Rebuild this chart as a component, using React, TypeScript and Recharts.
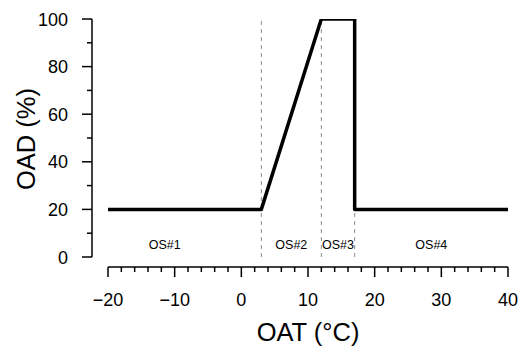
import React from "react";
import { ComposedChart, Line, Scatter, XAxis, YAxis, ReferenceLine } from "recharts";

// damper profile: outside air temperature vs outside air damper position
const oat = [-20, 3, 12, 17, 17, 40];
const oad = [20, 20, 100, 100, 20, 20];

// operating-state boundaries and their labels
const boundaries = [3, 12, 17];
const osNames = ["OS#1", "OS#2", "OS#3", "OS#4"];
const osX = [-11.5, 7.5, 14.5, 28.5];
const osY = [5.3, 5.3, 5.3, 5.3];

const xTicks = [-20, -18, -16, -14, -12, -10, -8, -6, -4, -2, 0, 2, 4, 6, 8, 10, 12, 14, 16, 18, 20, 22, 24, 26, 28, 30, 32, 34, 36, 38, 40];
const xMajor = [-20, -10, 0, 10, 20, 30, 40];
const yTicks = [0, 10, 20, 30, 40, 50, 60, 70, 80, 90, 100];
const yMajor = [0, 20, 40, 60, 80, 100];

const profile = oat.map((x, i) => ({ x, y: oad[i] }));
const osPoints = osNames.map((name, i) => ({ name, x: osX[i], y: osY[i] }));

const FONT = "'Liberation Sans', Arial, sans-serif";
const AXIS_GAP = 10; // R-style axes sit a bit off the plot
const Y_GAP = 16;

const fmt = (v: number) => (v < 0 ? `\u2212${Math.abs(v)}` : `${v}`);

function XTick({ x, y, payload }: any) {
  const major = xMajor.includes(payload.value);
  const y0 = y + AXIS_GAP;
  return (
    <g>
      <line x1={x} x2={x} y1={y0} y2={y0 + (major ? 10 : 5)} stroke="#000" strokeWidth={1.5} />
      {major && (
        <text x={x} y={y + 49} textAnchor="middle" fontSize={18} fontFamily={FONT} fill="#000">
          {fmt(payload.value)}
        </text>
      )}
    </g>
  );
}

function YTick({ x, y, payload }: any) {
  const major = yMajor.includes(payload.value);
  const x0 = x - Y_GAP;
  return (
    <g>
      <line x1={x0 - (major ? 10 : 5)} x2={x0} y1={y} y2={y} stroke="#000" strokeWidth={1.5} />
      {major && (
        <text x={x - 40} y={y + 6.5} textAnchor="end" fontSize={18} fontFamily={FONT} fill="#000">
          {payload.value}
        </text>
      )}
    </g>
  );
}

function OsLabel({ cx, cy, payload }: any) {
  return (
    <text x={cx} y={cy + 4.5} textAnchor="middle" fontSize={12.5} fontFamily={FONT} fill="#000">
      {payload.name}
    </text>
  );
}

export default function App() {
  return (
    <div style={{ position: "absolute", left: 0, top: 0, background: "#fff" }}>
      <ComposedChart width={518} height={347} margin={{ top: 19, right: 10, bottom: 0, left: 0 }}>
        <XAxis
          dataKey="x"
          type="number"
          domain={[-20, 40]}
          ticks={xTicks}
          interval={0}
          height={90}
          tickSize={0}
          tickMargin={0}
          tickLine={false}
          tick={<XTick />}
          axisLine={{ stroke: "#000", strokeWidth: 1.5, transform: `translate(0, ${AXIS_GAP})` }}
          allowDataOverflow
          label={{
            content: ({ viewBox }: any) => (
              <text
                x={viewBox.x + viewBox.width / 2}
                y={viewBox.y + 84}
                textAnchor="middle"
                fontSize={25.5}
                fontFamily={FONT}
                fill="#000"
              >
                OAT (°C)
              </text>
            ),
          }}
        />
        <YAxis
          dataKey="y"
          type="number"
          domain={[0, 100]}
          ticks={yTicks}
          interval={0}
          width={108}
          tickSize={0}
          tickMargin={0}
          tickLine={false}
          tick={<YTick />}
          axisLine={{ stroke: "#000", strokeWidth: 1.5, transform: `translate(${-Y_GAP}, 0)` }}
          allowDataOverflow
          label={{
            content: ({ viewBox }: any) => {
              const cx = viewBox.x + 35;
              const cy = viewBox.y + viewBox.height / 2 + 1;
              return (
                <text
                  x={cx}
                  y={cy}
                  transform={`rotate(-90, ${cx}, ${cy})`}
                  textAnchor="middle"
                  fontSize={25.5}
                  fontFamily={FONT}
                  fill="#000"
                >
                  OAD (%)
                </text>
              );
            },
          }}
        />
        {boundaries.map((b) => (
          <ReferenceLine key={b} x={b} stroke="#8c8c8c" strokeWidth={1} strokeDasharray="4 4" />
        ))}
        <Line
          data={profile}
          dataKey="y"
          type="linear"
          stroke="#000"
          strokeWidth={3.5}
          strokeLinejoin="round"
          strokeLinecap="round"
          dot={false}
          activeDot={false}
          isAnimationActive={false}
        />
        <Scatter data={osPoints} dataKey="y" shape={<OsLabel />} isAnimationActive={false} />
      </ComposedChart>
    </div>
  );
}
